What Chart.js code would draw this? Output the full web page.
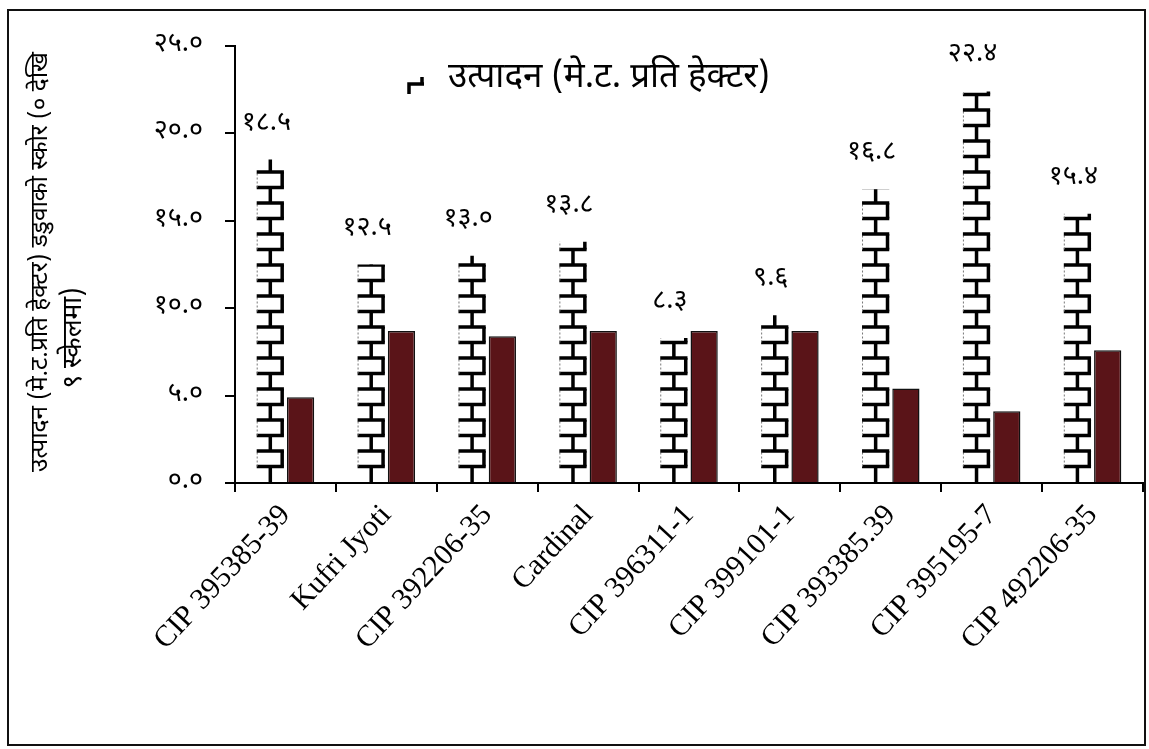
<!DOCTYPE html>
<html><head><meta charset="utf-8">
<script src="https://cdn.jsdelivr.net/npm/chart.js@4.4.1/dist/chart.umd.min.js"></script>
<style>html,body{margin:0;padding:0;background:#fff;} canvas{display:block}</style>
</head><body><canvas id="c" width="1149" height="749"></canvas>
<script>
const categories = ['CIP 395385-39','Kufri Jyoti','CIP 392206-35','Cardinal','CIP 396311-1','CIP 399101-1','CIP 393385.39','CIP 395195-7','CIP 492206-35'];
const yieldValues = [18.5, 12.5, 13.0, 13.8, 8.3, 9.6, 16.8, 22.4, 15.4];
const blightScores = [4.9, 8.7, 8.4, 8.7, 8.7, 8.7, 5.4, 4.1, 7.6];
const yTicks = [0, 5, 10, 15, 20, 25];
const legendLabel = 'उत्पादन (मे.ट. प्रति हेक्टर)';
const blightLabel = 'डडुवाको स्कोर';
const yTitleLines = ['उत्पादन (मे.ट.प्रति हेक्टर) डडुवाको स्कोर (० देखि', '९ स्केलमा)'];

const devDigits = '०१२३४५६७८९';
function toDev(v){ return Number(v).toFixed(1).replace(/[0-9]/g, d => devDigits[+d]); }
const DEV_FONT = "'Noto Sans Devanagari','Lohit Devanagari','Noto Sans',sans-serif";

function fitFont(ctx, text, target, family, maxSize){
  let s = maxSize;
  ctx.font = s + 'px ' + family;
  const w = ctx.measureText(text).width;
  if (w > 0) s = Math.min(maxSize, s * target / w);
  return s;
}

const framePlugin = {
  id:'frame',
  beforeDraw(chart){
    const c = chart.ctx;
    c.save();
    c.fillStyle = '#fff';
    c.fillRect(0,0,chart.width,chart.height);
    c.strokeStyle = '#111';
    c.lineWidth = 2;
    c.strokeRect(8,10,1137,735);
    c.restore();
  }
};

const brickPlugin = {
  id:'brick',
  afterDatasetsDraw(chart){
    const meta = chart.getDatasetMeta(0);
    const c = chart.ctx;
    meta.data.forEach((el, i) => {
      const {x, y, base, width} = el.getProps(['x','y','base','width'], true);
      const L = x - width/2, R = x + width/2;
      c.save();
      c.beginPath(); c.rect(L-2, y, width+4, base-y); c.clip();
      c.fillStyle = '#fff'; c.fillRect(L, y, width, base-y);
      const rowH = 15.5;
      c.strokeStyle = '#000'; c.lineWidth = 3.5; c.lineCap = 'butt';
      for (let k = 0; base - k*rowH > y - rowH; k++){
        const yb = base - k*rowH, yt = yb - rowH;
        if (k > 0){ c.beginPath(); c.moveTo(L, yb); c.lineTo(R, yb); c.stroke(); }
        if (k % 2 === 0){
          c.beginPath(); c.moveTo(x, yb); c.lineTo(x, yt); c.stroke();
        } else {
          c.beginPath(); c.moveTo(R-1.75, yb); c.lineTo(R-1.75, yt); c.stroke();
          c.save(); c.lineWidth = 1; c.strokeStyle = '#777'; c.setLineDash([2,2]);
          c.beginPath(); c.moveTo(L+0.5, yb); c.lineTo(L+0.5, yt); c.stroke(); c.restore();
        }
      }
      c.restore();
      c.save();
      c.fillStyle = '#000';
      c.font = '27px ' + DEV_FONT;
      c.textAlign = 'center'; c.textBaseline = 'middle';
      c.fillText(toDev(yieldValues[i]), x - 4, y - 35);
      c.restore();
    });
  }
};

const legendPlugin = {
  id:'customLegend',
  afterDraw(chart){
    const c = chart.ctx;
    c.save();
    c.strokeStyle = '#000'; c.lineWidth = 3.5;
    c.beginPath();
    c.moveTo(409, 94); c.lineTo(409, 84); c.lineTo(424, 84); c.moveTo(422, 84); c.lineTo(422, 77);
    c.stroke();
    const s = fitFont(c, legendLabel, 322, DEV_FONT, 36);
    c.font = s + 'px ' + DEV_FONT;
    c.fillStyle = '#000'; c.textAlign = 'left'; c.textBaseline = 'middle';
    c.fillText(legendLabel, 448, 80);
    c.restore();
  }
};

const yTitlePlugin = {
  id:'yTitle',
  afterDraw(chart){
    const c = chart.ctx;
    c.save();
    c.fillStyle = '#000'; c.textAlign = 'center'; c.textBaseline = 'middle';
    const s = fitFont(c, yTitleLines[0], 420, DEV_FONT, 26);
    c.font = s + 'px ' + DEV_FONT;
    c.translate(42, 262); c.rotate(-Math.PI/2);
    c.fillText(yTitleLines[0], 0, 0);
    c.restore();
    c.save();
    c.fillStyle = '#000'; c.textAlign = 'center'; c.textBaseline = 'middle';
    c.font = (s + 2) + 'px ' + DEV_FONT;
    c.translate(76, 338); c.rotate(-Math.PI/2);
    c.fillText(yTitleLines[1], 0, 0);
    c.restore();
  }
};

new Chart(document.getElementById('c'), {
  type:'bar',
  data:{
    labels: categories,
    datasets:[
      {label: legendLabel, data: yieldValues, backgroundColor:'rgba(0,0,0,0)', borderWidth:0, categoryPercentage:0.6, barPercentage:0.9},
      {label: blightLabel, data: blightScores, backgroundColor:'#5a1418', borderColor:'#111', borderWidth:1.5, categoryPercentage:0.6, barPercentage:0.9}
    ]
  },
  options:{
    responsive:false, animation:false,
    layout:{padding:{top:46, right:6, left:0, bottom:0}},
    plugins:{legend:{display:false}, tooltip:{enabled:false}},
    scales:{
      x:{
        grid:{display:true, drawOnChartArea:false, offset:true, color:'#000', lineWidth:2, tickLength:9},
        border:{display:true, color:'#000', width:2},
        ticks:{color:'#000', font:{family:"'Liberation Serif','Times New Roman',serif", size:30}, minRotation:47, maxRotation:47, autoSkip:false, padding:6},
        afterFit(s){ s.height = 749 - 483; }
      },
      y:{
        min:0, max:25,
        grid:{drawOnChartArea:false, color:'#000', lineWidth:2, tickLength:10},
        border:{color:'#000', width:2},
        ticks:{color:'#000', font:{family:DEV_FONT, size:27}, padding:22, callback:(v)=>toDev(v)},
        afterBuildTicks(s){ s.ticks = yTicks.map(v => ({value:v})); },
        afterFit(s){ s.width = 235; }
      }
    }
  },
  plugins:[framePlugin, brickPlugin, legendPlugin, yTitlePlugin]
});
</script>
</body></html>
